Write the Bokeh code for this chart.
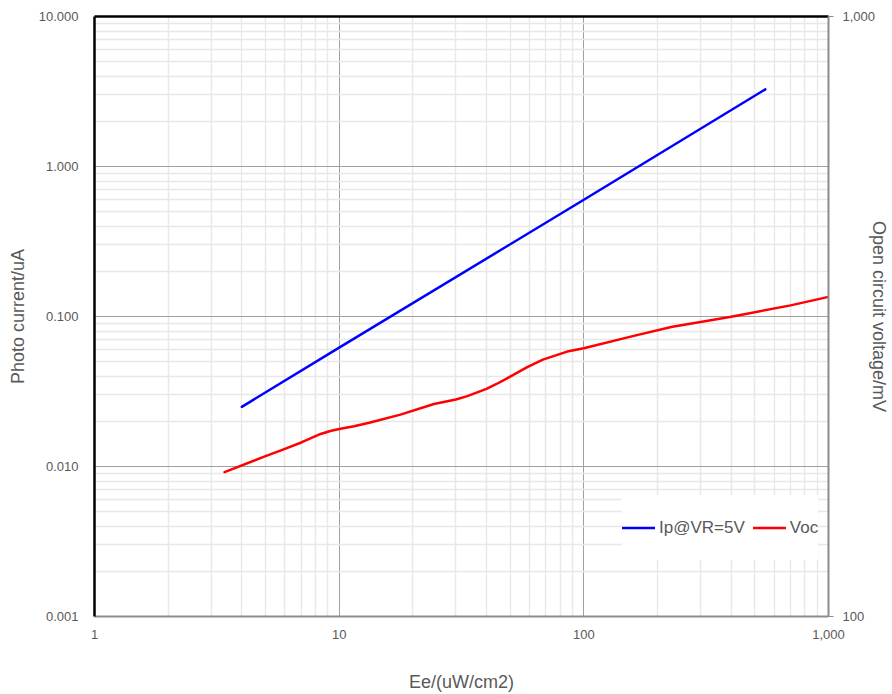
from bokeh.plotting import figure
from bokeh.models import (LogAxis, LogScale, Range1d, FixedTicker, NumeralTickFormatter,
                          Legend, LegendItem)
from bokeh.embed import file_html
from bokeh.resources import INLINE

# ---- data ----
ee_ip = [4, 10, 100, 552]
ip_vr5 = [0.025, 0.062, 0.60, 3.27]

ee_voc = [3.4, 5, 5.75, 7, 8.4, 9.2, 10, 11.5, 13.4, 17.8, 24.4, 30, 33.4, 40, 44.2,
          50, 58.7, 68, 85.5, 100, 160, 230, 300, 400, 700, 1000]
voc = [174, 185, 189, 195, 201.5, 203.8, 205.3, 207.5, 210.5, 217, 226, 230, 233, 239.5,
       244.3, 251, 260.3, 268, 276.4, 280, 293.6, 304, 309.7, 316, 330, 341]

x_major = [1, 10, 100, 1000]
y_major = [0.001, 0.01, 0.1, 1, 10]
y2_major = [100, 1000]
x_minor = [m * 10 ** d for d in range(0, 3) for m in range(2, 10)]
y_minor = [m * 10.0 ** d for d in range(-3, 1) for m in range(2, 10)]

GRAY_TXT = "#595959"
FONT = "Liberation Sans"

p = figure(width=892, height=694, x_axis_type="log", y_axis_type="log",
           x_range=Range1d(1, 1000), y_range=Range1d(0.001, 10),
           output_backend="svg", toolbar_location=None,
           min_border_left=94, min_border_right=64, min_border_top=16, min_border_bottom=77)
p.outline_line_color = None
p.background_fill_color = "white"
p.border_fill_color = "white"

p.extra_y_ranges = {"voc": Range1d(100, 1000)}
p.extra_y_scales = {"voc": LogScale()}

# grids
xt = FixedTicker(ticks=x_major, minor_ticks=x_minor)
yt = FixedTicker(ticks=y_major, minor_ticks=y_minor)
p.xgrid.ticker = xt
p.ygrid.ticker = yt
for g in (p.xgrid[0], p.ygrid[0]):
    g.grid_line_color = "#a0a0a0"
    g.grid_line_width = 1
    g.minor_grid_line_color = "#e8e8e8"
    g.minor_grid_line_width = 1.5

# bottom axis
xa = p.xaxis[0]
xa.ticker = xt
xa.formatter = NumeralTickFormatter(format="0,0")
xa.axis_line_color = "#8c8c8c"
xa.axis_line_width = 2
xa.major_tick_out = 0
xa.major_tick_in = 0
xa.minor_tick_out = 0
xa.minor_tick_in = 0
xa.major_label_standoff = 13
xa.major_label_text_font = FONT
xa.major_label_text_font_size = "13px"
xa.major_label_text_color = GRAY_TXT
xa.axis_label = "Ee/(uW/cm2)"
xa.axis_label_text_font = FONT
xa.axis_label_text_font_size = "18px"
xa.axis_label_text_font_style = "normal"
xa.axis_label_text_color = GRAY_TXT
xa.axis_label_standoff = 30

# left axis
ya = p.yaxis[0]
ya.ticker = yt
ya.formatter = NumeralTickFormatter(format="0.000")
ya.axis_line_color = "black"
ya.axis_line_width = 2.5
ya.major_tick_out = 0
ya.major_tick_in = 0
ya.minor_tick_out = 0
ya.minor_tick_in = 0
ya.major_label_standoff = 16
ya.major_label_text_font = FONT
ya.major_label_text_font_size = "13px"
ya.major_label_text_color = GRAY_TXT
ya.axis_label = "Photo current/uA"
ya.axis_label_text_font = FONT
ya.axis_label_text_font_size = "18px"
ya.axis_label_text_font_style = "normal"
ya.axis_label_text_color = GRAY_TXT
ya.axis_label_standoff = 8

# right axis (Voc)
ra = LogAxis(y_range_name="voc", ticker=FixedTicker(ticks=y2_major),
             formatter=NumeralTickFormatter(format="0,0"))
ra.axis_line_color = "#8c8c8c"
ra.axis_line_width = 2
ra.major_tick_line_color = "#8c8c8c"
ra.major_tick_out = 5
ra.major_tick_in = 0
ra.minor_tick_out = 0
ra.minor_tick_in = 0
ra.major_label_standoff = 9
ra.major_label_text_font = FONT
ra.major_label_text_font_size = "13px"
ra.major_label_text_color = GRAY_TXT
ra.axis_label = "Open circuit voltage/mV"
ra.axis_label_text_font = FONT
ra.axis_label_text_font_size = "18px"
ra.axis_label_text_font_style = "normal"
ra.axis_label_text_color = GRAY_TXT
ra.axis_label_standoff = -9
p.add_layout(ra, "right")

# top border
ta = LogAxis(ticker=FixedTicker(ticks=[]))
ta.axis_line_color = "black"
ta.axis_line_width = 2.5
ta.major_tick_out = 0
ta.major_tick_in = 0
ta.minor_tick_out = 0
ta.minor_tick_in = 0
ta.major_label_text_font_size = "0px"
ta.major_label_standoff = 0
p.add_layout(ta, "above")

# series
rb = p.line(ee_ip, ip_vr5, line_color="#0000ff", line_width=2.5, line_cap="round")
rr = p.line(ee_voc, voc, line_color="#ff0000", line_width=2.5, line_cap="round",
            line_join="round", y_range_name="voc")

legend = Legend(items=[LegendItem(label="Ip@VR=5V", renderers=[rb]),
                       LegendItem(label="Voc", renderers=[rr])],
                orientation="horizontal", location=(528, 56))
legend.border_line_color = None
legend.background_fill_color = "white"
legend.background_fill_alpha = 1
legend.padding = 10
legend.margin = 0
legend.spacing = 8
legend.glyph_width = 33
legend.glyph_height = 65
legend.label_height = 65
legend.label_standoff = 4
legend.label_text_font = FONT
legend.label_text_font_size = "17px"
legend.label_text_color = GRAY_TXT
p.add_layout(legend)

open("out.html", "w").write(file_html(p, INLINE))
